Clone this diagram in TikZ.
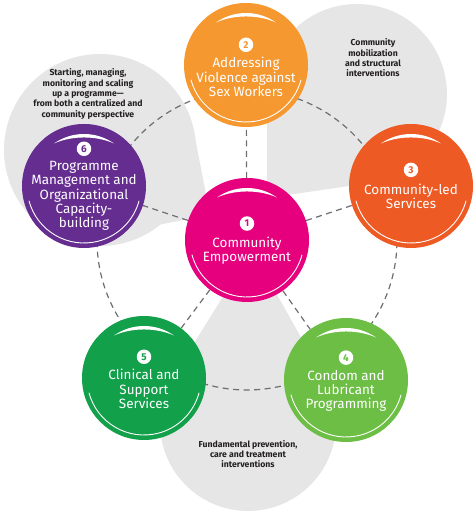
\documentclass[tikz,border=0pt]{standalone}
\usepackage{fontspec}
\setmainfont{Fira Sans}
\usetikzlibrary{positioning,calc,backgrounds}

\definecolor{empower}{HTML}{E6007E}
\definecolor{violence}{HTML}{F4982F}
\definecolor{services}{HTML}{EE5A24}
\definecolor{condom}{HTML}{6DBE45}
\definecolor{clinical}{HTML}{12A04B}
\definecolor{management}{HTML}{652D90}
\definecolor{petalgray}{HTML}{E6E6E7}
\definecolor{dashgray}{HTML}{6D6E71}
\definecolor{notetext}{HTML}{231F20}

\begin{document}
\begin{tikzpicture}[x=1bp, y=1bp,
		bubble/.style={circle, minimum size=124bp, inner sep=0pt, fill=#1},
		caption/.style={text=white, align=center, inner sep=2bp, font=\fontsize{13.5}{14.3}\selectfont},
		badge/.style={circle, fill=white, minimum size=14.5bp, inner sep=0pt, text=#1, font=\bfseries\fontsize{10}{10}\selectfont},
		note/.style={align=center, text=notetext, font=\bfseries\fontsize{8.7}{10.4}\selectfont},
		petal/.style={fill=petalgray},
		dashring/.style={draw=dashgray, line width=1.2bp, dash pattern=on 6bp off 4.5bp}]
		\useasboundingbox (0,0) rectangle (474,511);

		% Bubbles
		\node[bubble=empower] (c1) at (247,271) {};
		\node[bubble=violence] (c2) at (246,446) {};
		\node[bubble=services] (c3) at (411,325) {};
		\node[bubble=condom] (c4) at (346,131) {};
		\node[bubble=clinical] (c5) at (144,133) {};
		\node[bubble=management] (c6) at (84,325) {};

		% Petals and dashed links
		\begin{pgfonlayer}{background}
			\fill[petal] (357,417) circle[radius=90];
			\fill[petal] (267,313) -- (267,417) -- (357,417) -- (370,328) -- cycle;
			\fill[petal] (100,361) circle[radius=96];
			\fill[petal] (210,296) -- (194,379) -- (100,361) -- (100,275) -- cycle;
			\fill[petal] (248,88) circle[radius=88];
			\fill[petal] (252,261) -- (171,131) -- (323,134.5) -- cycle;

			\draw[dashring] (c1.center) circle[radius=150];
			\foreach \i in {2,...,6}
				\draw[dashring] (c1) -- (c\i);
		\end{pgfonlayer}

		% Highlights
		\foreach \i in {1,...,6}{
			\draw[white, line width=0.9bp] ($(c\i)+(195:57)$) arc[start angle=195, end angle=345, radius=57];
			\fill[white] ($(c\i)+(55:52)$) arc[start angle=55, end angle=125, radius=52]
				.. controls ($(c\i)+(-12,50.5)$) and ($(c\i)+(12,50.5)$) .. ($(c\i)+(55:52)$);
		}

		% Captions
		\node[caption] (t1) at ([yshift=-11bp]c1) {Community\\Empowerment};
		\node[badge=empower, above=4bp of t1] (n1) {1};
		\node[caption] (t2) at ([yshift=-12bp]c2) {Addressing\\Violence against\\Sex Workers};
		\node[badge=violence, above=3bp of t2] (n2) {2};
		\node[caption] (t3) at ([yshift=-10bp]c3) {Community-led\\Services};
		\node[badge=services, above=4bp of t3] (n3) {3};
		\node[caption] (t4) at ([yshift=-11bp]c4) {Condom and\\Lubricant\\Programming};
		\node[badge=condom, above=3bp of t4] (n4) {4};
		\node[caption] (t5) at ([yshift=-11bp]c5) {Clinical and\\Support\\Services};
		\node[badge=clinical, above=3bp of t5] (n5) {5};
		\node[caption] (t6) at ([yshift=-10bp]c6) {Programme\\Management and\\Organizational\\Capacity-\\building};
		\node[badge=management, above=3bp of t6] (n6) {6};

		% Notes
		\node[note] (mobilization) at (373,453) {Community\\mobilization\\and structural\\interventions};
		\node[note] (programme) at (88,417) {Starting, managing,\\monitoring and scaling\\up a programme---\\from both a centralized and\\community perspective};
		\node[note] (prevention) at (248,57) {Fundamental prevention,\\care and treatment\\interventions};
	\end{tikzpicture}
\end{document}
